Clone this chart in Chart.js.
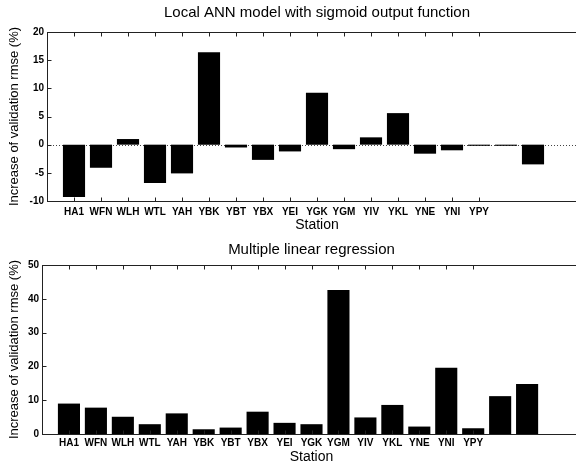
<!DOCTYPE html>
<html>
<head>
<meta charset="utf-8">
<script src="https://cdn.jsdelivr.net/npm/chart.js@4.4.1/dist/chart.umd.min.js"></script>
<style>
  html, body { margin: 0; padding: 0; background: #fff; overflow: hidden; width: 576px; height: 464px; }
  canvas { display: block; }
</style>
</head>
<body>
<canvas id="top" width="620" height="232"></canvas>
<canvas id="bottom" width="620" height="232"></canvas>
<script>
// ---- data ----
const stations = ['HA1','WFN','WLH','WTL','YAH','YBK','YBT','YBX','YEI','YGK','YGM','YIV','YKL','YNE','YNI','YPY'];
const annValues = [-9.3, -4.1, 1.0, -6.8, -5.1, 16.4, -0.5, -2.7, -1.2, 9.2, -0.8, 1.3, 5.6, -1.6, -1.0, -0.2, -0.2, -3.5];
const mlrValues = [9.0, 7.8, 5.1, 2.9, 6.1, 1.4, 1.9, 6.6, 3.3, 2.9, 42.6, 4.9, 8.6, 2.2, 19.6, 1.7, 11.2, 14.8];
const annTitle = 'Local ANN model with sigmoid output function';
const mlrTitle = 'Multiple linear regression';
const yTitle = 'Increase of validation rmse (%)';
const xTitle = 'Station';
const annYTicks = [-10, -5, 0, 5, 10, 15, 20];
const mlrYTicks = [0, 10, 20, 30, 40, 50];

const FONT = '"Liberation Sans", Arial, Helvetica, sans-serif';

const boxPlugin = {
  id: 'matlabBox',
  beforeDatasetsDraw(chart, args, opts) {
    const {ctx, chartArea: a, scales: {y}} = chart;
    if (opts.zeroLine) {
      const py = Math.round(y.getPixelForValue(0)) + 0.5;
      ctx.save();
      ctx.strokeStyle = '#444';
      ctx.lineWidth = 1;
      ctx.setLineDash([1, 2]);
      ctx.beginPath();
      ctx.moveTo(a.left, py);
      ctx.lineTo(a.right, py);
      ctx.stroke();
      ctx.restore();
    }
  },
  afterDraw(chart, args, opts) {
    const {ctx, chartArea: a, scales: {x, y}} = chart;
    ctx.save();
    ctx.strokeStyle = '#222';
    ctx.lineWidth = 1;
    const L = Math.round(a.left) + 0.5, R = Math.round(a.right) + 0.5;
    const T = Math.round(a.top) + 0.5, B = Math.round(a.bottom) + 0.5;
    ctx.strokeRect(L, T, R - L, B - T);
    const tl = 4;
    ctx.beginPath();
    x.ticks.forEach(t => {
      const px = Math.round(x.getPixelForValue(t.value)) + 0.5;
      ctx.moveTo(px, T); ctx.lineTo(px, T + tl);
      ctx.moveTo(px, B); ctx.lineTo(px, B - tl);
    });
    y.ticks.forEach(t => {
      const py = Math.round(y.getPixelForValue(t.value)) + 0.5;
      ctx.moveTo(L, py); ctx.lineTo(L + tl, py);
      ctx.moveTo(R, py); ctx.lineTo(R - tl, py);
    });
    ctx.stroke();
    ctx.restore();
  }
};

function makeChart(id, values, title, cfg) {
  const data = values.map((v, i) => ({x: i + 1, y: v}));
  return new Chart(document.getElementById(id), {
    type: 'bar',
    data: { datasets: [{ data, backgroundColor: '#000', borderWidth: 0,
      barPercentage: 0.82, categoryPercentage: 1 }] },
    plugins: [boxPlugin],
    options: {
      responsive: false, animation: false, devicePixelRatio: 1,
      layout: { padding: { left: 0, right: cfg.padRight, top: 0, bottom: 0 } },
      plugins: {
        legend: { display: false }, tooltip: { enabled: false },
        title: { display: true, text: title, color: '#000', fullSize: false,
          font: { family: FONT, size: 15, weight: 'normal', lineHeight: 1.2 },
          padding: cfg.titlePad },
        matlabBox: { zeroLine: cfg.zeroLine }
      },
      scales: {
        x: {
          type: 'linear', min: 0, max: 20, offset: false,
          afterBuildTicks: s => { s.ticks = stations.map((n, i) => ({ value: i + 1 })); },
          afterFit: s => { s.height = cfg.xHeight; },
          grid: { display: false, drawTicks: false },
          border: { display: false },
          ticks: { autoSkip: false, maxRotation: 0, minRotation: 0, padding: cfg.xTickPad, color: '#000',
            font: { family: FONT, size: 10, weight: 'bold' },
            callback: v => stations[v - 1] },
          title: { display: true, text: xTitle, color: '#000',
            font: { family: FONT, size: 14, lineHeight: 1 }, padding: { top: 0, bottom: 0 } }
        },
        y: {
          min: cfg.yMin, max: cfg.yMax,
          afterBuildTicks: s => { s.ticks = cfg.yTicks.map(v => ({ value: v })); },
          afterFit: s => { s.width = cfg.yWidth; },
          grid: { display: false, drawTicks: false },
          border: { display: false },
          ticks: { padding: 3, color: '#000', font: { family: FONT, size: 10, weight: 'bold' } },
          title: { display: true, text: yTitle, color: '#000',
            font: { family: FONT, size: 13, lineHeight: 1.2 }, padding: { top: 7, bottom: 0 } }
        }
      }
    }
  });
}

makeChart('top', annValues, annTitle, {
  padRight: 33, titlePad: { top: 4, bottom: 10 }, zeroLine: true,
  xHeight: 31, xTickPad: 5, yMin: -10, yMax: 20, yTicks: annYTicks, yWidth: 47
});
makeChart('bottom', mlrValues, mlrTitle, {
  padRight: 39, titlePad: { top: 9, bottom: 6 }, zeroLine: false,
  xHeight: 30, xTickPad: 3, yMin: 0, yMax: 50, yTicks: mlrYTicks, yWidth: 42
});
</script>
</body>
</html>
